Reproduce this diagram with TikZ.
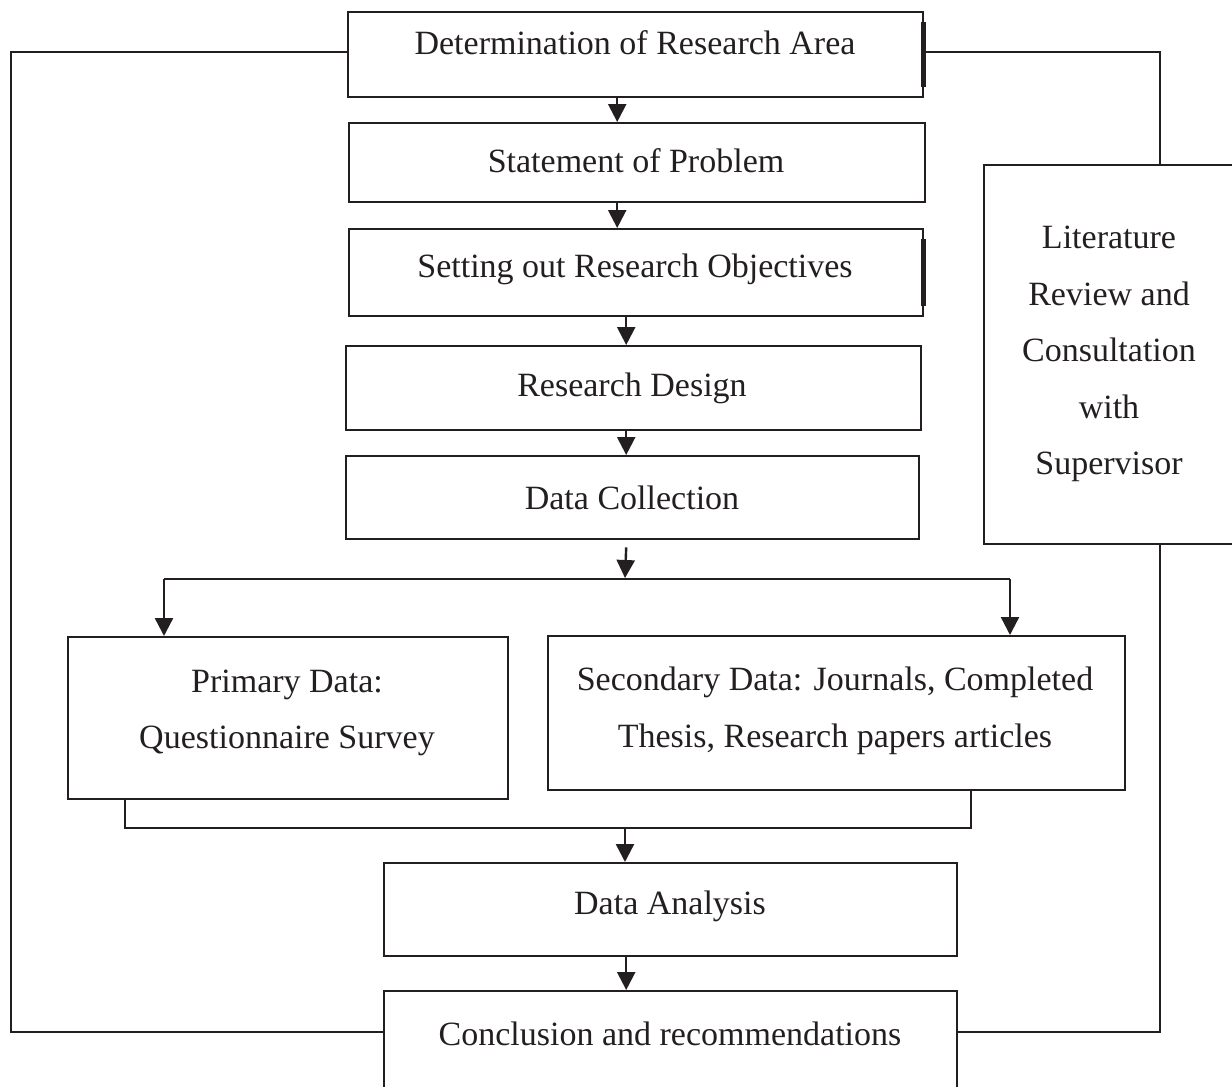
\documentclass[tikz,border=0pt]{standalone}
\usepackage{fontspec}
\setmainfont{Liberation Serif}
\usetikzlibrary{arrows.meta}
\definecolor{ink}{HTML}{231F20}
\tikzset{
  box/.style={draw=ink, line width=2.4pt, rectangle, inner sep=0pt, anchor=north west},
  lbl/.style={font=\fontsize{34}{56.5}\selectfont, text=ink, align=center, inner sep=0pt},
  conn/.style={draw=ink, line width=2.4pt},
  arr/.style={conn, -{Triangle[width=18pt,length=18pt]}},
  thickedge/.style={draw=ink, line width=5pt}
}
\begin{document}
\begin{tikzpicture}[x=1pt,y=-1pt]
\useasboundingbox (0,0) rectangle (1232,1087);
\clip (0,0) rectangle (1232,1087);
% boxes
\node[box, minimum width=575pt, minimum height=85pt] (b1) at (347,11) {};
\node[box, minimum width=576pt, minimum height=79pt] (b2) at (348,122) {};
\node[box, minimum width=574pt, minimum height=87pt] (b3) at (348,228) {};
\node[box, minimum width=575pt, minimum height=84pt] (b4) at (345,345) {};
\node[box, minimum width=573pt, minimum height=83pt] (b5) at (345,455) {};
\node[box, minimum width=440pt, minimum height=162pt] (pd) at (67,636) {};
\node[box, minimum width=577pt, minimum height=154pt] (sd) at (547,635) {};
\node[box, minimum width=573pt, minimum height=93pt] (da) at (383,862) {};
\node[box, minimum width=573pt, minimum height=120pt] (cr) at (383,990) {};
\node[box, minimum width=270pt, minimum height=379pt] (lr) at (983,164) {};
% thick right edges
\draw[thickedge] ([xshift=-1pt,yshift=-11pt]b1.north east) -- ([xshift=-1pt,yshift=11pt]b1.south east);
\draw[thickedge] ([xshift=-1pt,yshift=-11pt]b3.north east) -- ([xshift=-1pt,yshift=11pt]b3.south east);
% texts
\node[lbl] (t1) at (635,43) {Determination of Research Area};
\node[lbl] (t2) at (636,161) {Statement of Problem};
\node[lbl] (t3) at (635,269) {Setting out Research Objectives};
\node[lbl] (t4) at (632,388) {Research Design};
\node[lbl] (t5) at (632,498) {Data Collection};
\node[lbl] (tp) at (287,713) {Primary Data:\\Questionnaire Survey};
\node[lbl] (ts) at (835,711) {Secondary Data: Journals, Completed\\Thesis, Research papers articles};
\node[lbl] (ta) at (670,906) {Data Analysis};
\node[lbl] (tc) at (670,1034) {Conclusion and recommendations};
\node[lbl] (tl) at (1109,354) {Literature\\Review and\\Consultation\\with\\Supervisor};
% main arrows
\draw[arr] ([xshift=-18.5pt]b1.south) -- ([xshift=-18.5pt]b1.south |- b2.north);
\draw[arr] ([xshift=-20pt]b2.south) -- ([xshift=-20pt]b2.south |- b3.north);
\draw[arr] ([xshift=-10pt]b3.south) -- ([xshift=-10pt]b3.south |- b4.north);
\draw[arr] ([xshift=-7.5pt]b4.south) -- ([xshift=-7.5pt]b4.south |- b5.north);
% split
\coordinate (sc) at (625,579);
\coordinate (sl) at (164,579);
\coordinate (sr) at (1010,579);
\draw[arr] ([xshift=-6.5pt,yshift=-7pt]b5.south) -- ([yshift=1pt]sc);
\draw[conn] (sl) -- (sr);
\draw[arr] (sl) -- (sl |- pd.north);
\draw[arr] (sr) -- (sr |- sd.north);
% merge
\coordinate (ml) at (125,828);
\coordinate (mr) at (971,828);
\coordinate (mc) at (625,828);
\draw[conn] (ml |- pd.south) -- (ml) -- (mr) -- (mr |- sd.south);
\draw[arr] (mc) -- (mc |- da.north);
\draw[arr] ([xshift=-44.5pt]da.south) -- ([xshift=-44.5pt]da.south |- cr.north);
% feedback loops
\coordinate (lt) at (11,52);
\coordinate (lb) at (11,1032);
\coordinate (rt) at (1160,52);
\coordinate (rb) at (1160,1032);
\draw[conn] (lt -| b1.west) -- (lt) -- (lb) -- (lb -| cr.west);
\draw[conn] (rt -| b1.east) -- (rt) -- (rt |- lr.north);
\draw[conn] (rb |- lr.south) -- (rb) -- (rb -| cr.east);
\end{tikzpicture}
\end{document}
